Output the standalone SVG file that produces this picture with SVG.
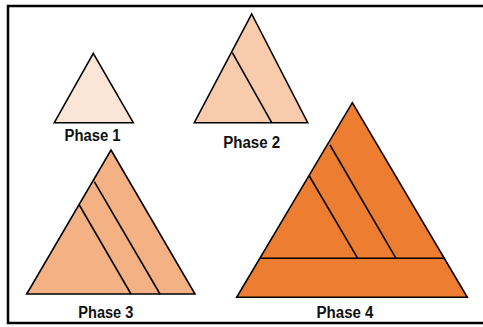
<svg xmlns="http://www.w3.org/2000/svg" width="483" height="327" viewBox="0 0 483 327">
  <style>
    .edge { stroke: #000; stroke-width: 1.6; stroke-linejoin: miter; fill: none; }
    .tri { stroke: #000; stroke-width: 1.6; stroke-linejoin: miter; }
    .label { font-family: "Liberation Sans", Arial, sans-serif; font-weight: bold; font-size: 16px; fill: #111; text-anchor: middle; }
  </style>
  <rect x="0" y="0" width="483" height="327" fill="#fff"/>
  <!-- outer frame (runs past the right edge) -->
  <rect x="8" y="6" width="490" height="317" fill="none" stroke="#000" stroke-width="2.5"/>

  <g id="phase1">
    <polygon class="tri" points="93.3,53.3 133.3,122.7 54.3,122.7" fill="#FBE5D6"/>
    <text class="label" x="92.5" y="141" textLength="56" lengthAdjust="spacingAndGlyphs">Phase 1</text>
  </g>

  <g id="phase2">
    <polygon class="tri" points="251.7,14 307.7,122.7 194.3,122.7" fill="#F8CBAD"/>
    <g class="connectors">
      <line class="edge" x1="232.3" y1="52.7" x2="271.7" y2="122.7"/>
    </g>
    <text class="label" x="251.7" y="147.7" textLength="57" lengthAdjust="spacingAndGlyphs">Phase 2</text>
  </g>

  <g id="phase3">
    <polygon class="tri" points="111,150 195,294 26.7,294" fill="#F4B183"/>
    <g class="connectors">
      <line class="edge" x1="79.3" y1="205" x2="131" y2="294"/>
      <line class="edge" x1="94.3" y1="181.7" x2="160" y2="294"/>
    </g>
    <text class="label" x="105.8" y="318" textLength="55" lengthAdjust="spacingAndGlyphs">Phase 3</text>
  </g>

  <g id="phase4">
    <polygon class="tri" points="352.3,102.7 467.3,297.3 236.7,297.3" fill="#ED7D31"/>
    <g class="connectors">
      <line class="edge" x1="260" y1="258.3" x2="445" y2="258.3"/>
      <line class="edge" x1="309.3" y1="176" x2="357.7" y2="258.3"/>
      <line class="edge" x1="330" y1="145" x2="396" y2="258.3"/>
    </g>
    <text class="label" x="345" y="318" textLength="57" lengthAdjust="spacingAndGlyphs">Phase 4</text>
  </g>
</svg>
